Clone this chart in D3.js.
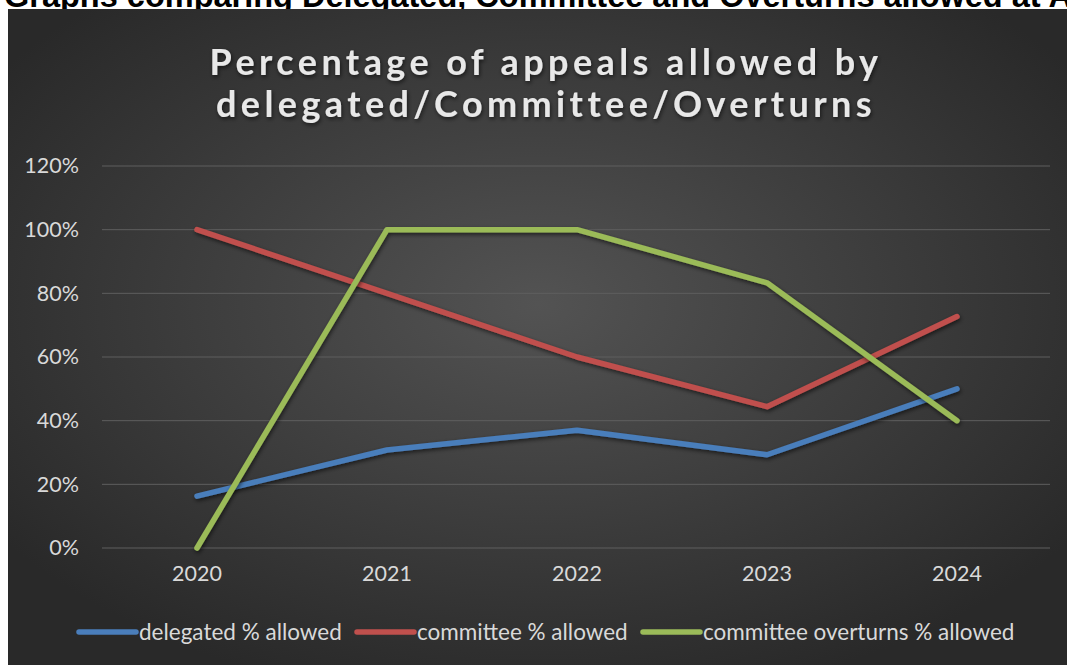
<!DOCTYPE html>
<html>
<head>
<meta charset="utf-8">
<script src="https://cdn.jsdelivr.net/npm/d3@7"></script>
<style>
  html, body { margin: 0; padding: 0; background: #fff; }
  svg { display: block; }
</style>
</head>
<body>
<div id="chart"></div>
<script>
// chart values
const years = ['2020', '2021', '2022', '2023', '2024'];
const delegated = [0.163, 0.308, 0.37, 0.293, 0.50];
const committee = [1.0, 0.80, 0.60, 0.444, 0.727];
const overturns = [0.0, 1.0, 1.0, 0.833, 0.40];
const seriesNames = ['delegated % allowed', 'committee % allowed', 'committee overturns % allowed'];
const yTicks = [0, 0.2, 0.4, 0.6, 0.8, 1.0, 1.2];

const width = 1067, height = 665;
const colors = ['#4a7ebb', '#c0504d', '#9bbb59'];
const font = 'Lato, Open Sans, sans-serif';

const svg = d3.select('#chart').append('svg')
    .attr('width', width)
    .attr('height', height);

const defs = svg.append('defs');
const grad = defs.append('radialGradient')
    .attr('id', 'bg')
    .attr('cx', '50%').attr('cy', '45%').attr('r', '62%');
grad.append('stop').attr('offset', '0%').attr('stop-color', '#535353');
grad.append('stop').attr('offset', '100%').attr('stop-color', '#292929');

const shadow = defs.append('filter').attr('id', 'shadow')
    .attr('x', '-10%').attr('y', '-10%').attr('width', '120%').attr('height', '120%');
shadow.append('feDropShadow')
    .attr('dx', 1).attr('dy', 2).attr('stdDeviation', 2)
    .attr('flood-color', '#000').attr('flood-opacity', 0.6);

// heading above the chart, cut off by the top edge as in the source
svg.append('text')
    .attr('x', 4).attr('y', 7)
    .style('font-family', 'Liberation Sans, Arial, sans-serif')
    .style('font-weight', 'bold')
    .style('font-size', '32.5px')
    .style('fill', '#000')
    .text('Graphs comparing Delegated, Committee and Overturns allowed at Appeal');

// chart background
svg.append('rect')
    .attr('x', 8).attr('y', 9)
    .attr('width', width - 8).attr('height', height - 9)
    .attr('fill', 'url(#bg)');

// title
const title = svg.append('text')
    .attr('text-anchor', 'middle')
    .style('font-family', font)
    .style('font-weight', 'bold')
    .style('font-size', '36px')
    .style('letter-spacing', '4.4px')
    .style('fill', '#e8e8e8')
    .attr('filter', 'url(#shadow)');
title.append('tspan').attr('x', 546).attr('y', 75).text('Percentage of appeals allowed by');
title.append('tspan').attr('x', 546).attr('y', 117).text('delegated/Committee/Overturns');

// scales
const x = d3.scaleBand().domain(years).range([102, 1052]);
const y = d3.scaleLinear().domain([0, 1.2]).range([548, 166]);

// grid
svg.append('g')
    .selectAll('line')
    .data(yTicks)
    .join('line')
    .attr('x1', 102).attr('x2', 1050)
    .attr('y1', d => y(d)).attr('y2', d => y(d))
    .attr('stroke', '#5e5e5e')
    .attr('stroke-width', 1);

// y axis labels
const yAxis = svg.append('g')
    .attr('transform', 'translate(79,0)')
    .call(d3.axisLeft(y).tickValues(yTicks).tickFormat(d3.format('.0%')).tickSize(0).tickPadding(0));
yAxis.select('.domain').remove();
yAxis.selectAll('text')
    .style('font-family', font)
    .style('font-size', '21.5px')
    .attr('fill', '#d9d9d9');

// x axis labels
const xAxis = svg.append('g')
    .attr('transform', 'translate(0,566)')
    .call(d3.axisBottom(x).tickSize(0).tickPadding(0));
xAxis.select('.domain').remove();
xAxis.selectAll('text')
    .style('font-family', font)
    .style('font-size', '21.5px')
    .attr('fill', '#d9d9d9');

// lines
const line = d3.line()
    .x((d, i) => x(years[i]) + x.bandwidth() / 2)
    .y(d => y(d));

const series = [delegated, committee, overturns];
svg.append('g')
    .selectAll('path')
    .data(series)
    .join('path')
    .attr('d', line)
    .attr('fill', 'none')
    .attr('stroke', (d, i) => colors[i])
    .attr('stroke-width', 5.5)
    .attr('stroke-linecap', 'round')
    .attr('stroke-linejoin', 'round')
    .attr('filter', 'url(#shadow)');

// legend
const legendX = [79, 357, 643];
const legend = svg.append('g')
    .selectAll('g')
    .data(seriesNames)
    .join('g')
    .attr('transform', (d, i) => `translate(${legendX[i]},632)`);
legend.append('line')
    .attr('x1', 0).attr('x2', 57)
    .attr('stroke', (d, i) => colors[i])
    .attr('stroke-width', 5.5)
    .attr('stroke-linecap', 'round');
legend.append('text')
    .attr('x', 60).attr('y', 8)
    .style('font-family', font)
    .style('font-size', '22.5px')
    .attr('fill', '#d9d9d9')
    .text(d => d);
</script>
</body>
</html>
